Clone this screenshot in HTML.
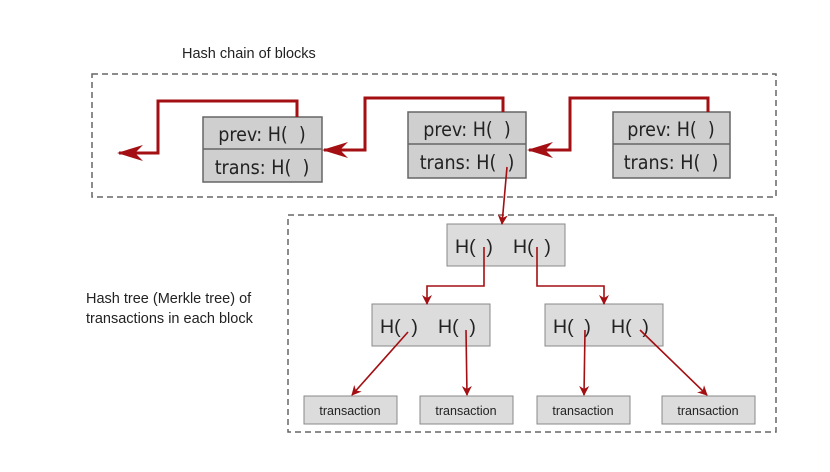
<!DOCTYPE html>
<html><head><meta charset="utf-8"><style>
body{margin:0;background:#fff;width:830px;height:467px;overflow:hidden}
svg text{font-family:"Liberation Sans",sans-serif}
</style></head><body>
<svg width="830" height="467" viewBox="0 0 830 467">
<defs>
<marker id="a" markerWidth="10" markerHeight="10" refX="9" refY="5" orient="auto" markerUnits="userSpaceOnUse"><path d="M0,0 L10,5 L0,10 L3,5 z" fill="#a30f12"/></marker>
<marker id="b" markerWidth="26" markerHeight="16" refX="24" refY="8" orient="auto" markerUnits="userSpaceOnUse"><path d="M0,0 L26,8 L0,16 L8,8 z" fill="#a30f12"/></marker>
</defs>
<text x="182" y="58" font-size="14.5" fill="#222">Hash chain of blocks</text>
<text x="86" y="303" font-size="14.5" fill="#222">Hash tree (Merkle tree) of</text>
<text x="86" y="323" font-size="14.5" fill="#222">transactions in each block</text>
<rect x="92" y="74" width="684" height="123" fill="none" stroke="#666" stroke-width="1.5" stroke-dasharray="6,4"/>
<rect x="288" y="215" width="488" height="217" fill="none" stroke="#666" stroke-width="1.5" stroke-dasharray="6,4"/>
<g fill="#cfcfcf" stroke="#666" stroke-width="1.5">
<rect x="203" y="117" width="119" height="65"/><line x1="203" y1="149" x2="322" y2="149"/>
<rect x="408" y="112" width="118" height="66"/><line x1="408" y1="144" x2="526" y2="144"/>
<rect x="613" y="112" width="117" height="66"/><line x1="613" y1="144" x2="730" y2="144"/>
</g>
<g font-size="19.5" fill="#222" text-anchor="middle">
<text x="262" y="141" style="font-family:'DejaVu Sans Condensed','DejaVu Sans',sans-serif">prev: H(&#160;&#160;)</text>
<text x="262" y="174" style="font-family:'DejaVu Sans Condensed','DejaVu Sans',sans-serif">trans: H(&#160;&#160;)</text>
<text x="467" y="136" style="font-family:'DejaVu Sans Condensed','DejaVu Sans',sans-serif">prev: H(&#160;&#160;)</text>
<text x="467" y="169" style="font-family:'DejaVu Sans Condensed','DejaVu Sans',sans-serif">trans: H(&#160;&#160;)</text>
<text x="671" y="136" style="font-family:'DejaVu Sans Condensed','DejaVu Sans',sans-serif">prev: H(&#160;&#160;)</text>
<text x="671" y="169" style="font-family:'DejaVu Sans Condensed','DejaVu Sans',sans-serif">trans: H(&#160;&#160;)</text>
</g>
<g fill="none" stroke="#a30f12" stroke-width="3">
<polyline points="297,117 297,101 158,101 158,153 119,153" marker-end="url(#b)"/>
<polyline points="503,112 503,98 365,98 365,150 324,150" marker-end="url(#b)"/>
<polyline points="708,112 708,98 570,98 570,150 529,150" marker-end="url(#b)"/>
</g>
<g fill="#dcdcdc" stroke="#888" stroke-width="1">
<rect x="447" y="224" width="118" height="42"/>
<rect x="372" y="304" width="118" height="42"/>
<rect x="545" y="304" width="118" height="42"/>
<rect x="304" y="396" width="93" height="28"/>
<rect x="420" y="396" width="93" height="28"/>
<rect x="537" y="396" width="93" height="28"/>
<rect x="662" y="396" width="93" height="28"/>
</g>
<g font-size="19.5" fill="#222">
<text x="455" y="253">H(&#160;&#160;)</text><text x="513" y="253">H(&#160;&#160;)</text>
<text x="380" y="333">H(&#160;&#160;)</text><text x="438" y="333">H(&#160;&#160;)</text>
<text x="553" y="333">H(&#160;&#160;)</text><text x="611" y="333">H(&#160;&#160;)</text>
</g>
<g font-size="12.5" fill="#222" text-anchor="middle">
<text x="350" y="415">transaction</text><text x="466" y="415">transaction</text>
<text x="583" y="415">transaction</text><text x="708" y="415">transaction</text>
</g>
<g fill="none" stroke="#a30f12" stroke-width="1.6">
<line x1="507" y1="167" x2="502" y2="224" marker-end="url(#a)"/>
<polyline points="484,247 484,286 427,286 427,304" marker-end="url(#a)"/>
<polyline points="537,247 537,286 604,286 604,304" marker-end="url(#a)"/>
<line x1="408" y1="332" x2="352" y2="395" marker-end="url(#a)"/>
<line x1="466" y1="330" x2="467" y2="395" marker-end="url(#a)"/>
<line x1="585" y1="330" x2="584" y2="395" marker-end="url(#a)"/>
<line x1="640" y1="330" x2="707" y2="395" marker-end="url(#a)"/>
</g>
</svg>
</body></html>
